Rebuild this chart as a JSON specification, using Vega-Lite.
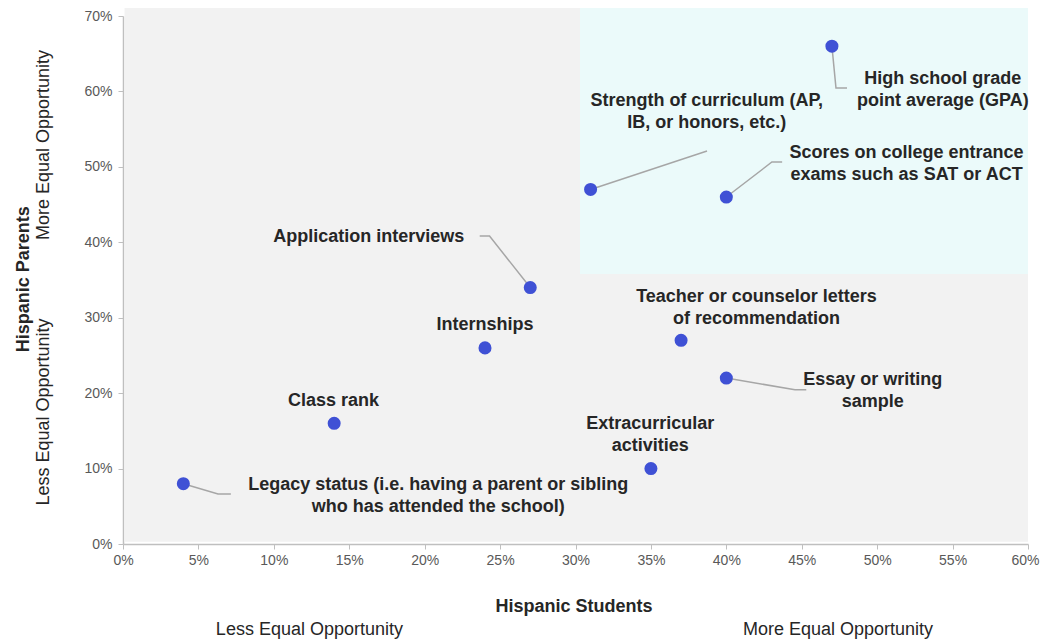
{
  "$schema": "https://vega.github.io/schema/vega-lite/v6.json",
  "width": 905,
  "height": 528,
  "autosize": {"type": "none"},
  "padding": {"left": 123, "top": 16, "right": 12, "bottom": 97},
  "background": "white",
  "config": {"view": {"stroke": null}, "font": "Liberation Sans"},
  "datasets": {
    "regions": [
      {"x1": 0.001, "x2": 0.6, "y1": 0.003, "y2": 0.7106, "fill": "gray"},
      {"x1": 0.303, "x2": 0.6, "y1": 0.358, "y2": 0.7106, "fill": "cyan"}
    ],
    "points": [
      {"factor": "Legacy status", "students": 0.04, "parents": 0.08},
      {"factor": "Class rank", "students": 0.14, "parents": 0.16},
      {"factor": "Internships", "students": 0.24, "parents": 0.26},
      {"factor": "Application interviews", "students": 0.27, "parents": 0.34},
      {"factor": "Strength of curriculum", "students": 0.31, "parents": 0.47},
      {"factor": "Extracurricular activities", "students": 0.35, "parents": 0.10},
      {"factor": "Teacher or counselor letters", "students": 0.37, "parents": 0.27},
      {"factor": "Essay or writing sample", "students": 0.40, "parents": 0.22},
      {"factor": "Scores on college entrance exams", "students": 0.40, "parents": 0.46},
      {"factor": "High school GPA", "students": 0.47, "parents": 0.66}
    ],
    "leaders": [
      {"factor": "GPA", "order": 1, "x": 0.47, "y": 0.66},
      {"factor": "GPA", "order": 2, "x": 0.4727, "y": 0.6045},
      {"factor": "GPA", "order": 3, "x": 0.4800, "y": 0.6045},
      {"factor": "Strength", "order": 1, "x": 0.31, "y": 0.47},
      {"factor": "Strength", "order": 2, "x": 0.3872, "y": 0.5210},
      {"factor": "Scores", "order": 1, "x": 0.40, "y": 0.46},
      {"factor": "Scores", "order": 2, "x": 0.4302, "y": 0.5064},
      {"factor": "Scores", "order": 3, "x": 0.4370, "y": 0.5064},
      {"factor": "Interviews", "order": 1, "x": 0.27, "y": 0.34},
      {"factor": "Interviews", "order": 2, "x": 0.2430, "y": 0.4083},
      {"factor": "Interviews", "order": 3, "x": 0.2365, "y": 0.4083},
      {"factor": "Essay", "order": 1, "x": 0.40, "y": 0.22},
      {"factor": "Essay", "order": 2, "x": 0.4455, "y": 0.2045},
      {"factor": "Essay", "order": 3, "x": 0.4530, "y": 0.2045},
      {"factor": "Legacy", "order": 1, "x": 0.04, "y": 0.08},
      {"factor": "Legacy", "order": 2, "x": 0.0630, "y": 0.0663},
      {"factor": "Legacy", "order": 3, "x": 0.0715, "y": 0.0663}
    ],
    "labels": [
      {"text": "High school grade\npoint average (GPA)", "x": 0.5435, "y": 0.6165},
      {"text": "Strength of curriculum (AP,\nIB, or honors, etc.)", "x": 0.387, "y": 0.5873},
      {"text": "Scores on college entrance\nexams such as SAT or ACT", "x": 0.5195, "y": 0.5184},
      {"text": "Application interviews", "x": 0.163, "y": 0.4070},
      {"text": "Internships", "x": 0.240, "y": 0.2903},
      {"text": "Class rank", "x": 0.1395, "y": 0.1896},
      {"text": "Teacher or counselor letters\nof recommendation", "x": 0.420, "y": 0.3275},
      {"text": "Essay or writing\nsample", "x": 0.497, "y": 0.2174},
      {"text": "Extracurricular\nactivities", "x": 0.3495, "y": 0.1591},
      {"text": "Legacy status (i.e. having a parent or sibling\nwho has attended the school)", "x": 0.209, "y": 0.0782}
    ],
    "xbold": [
      {"text": "Hispanic Students", "x": 0.299, "y": -0.0837}
    ],
    "xplain": [
      {"text": "Less Equal Opportunity", "x": 0.1236, "y": -0.114},
      {"text": "More Equal Opportunity", "x": 0.474, "y": -0.114}
    ],
    "ybold": [
      {"text": "Hispanic Parents", "x": -0.0658, "y": 0.351}
    ],
    "yplain": [
      {"text": "More Equal Opportunity", "x": -0.0525, "y": 0.529},
      {"text": "Less Equal Opportunity", "x": -0.0525, "y": 0.175}
    ]
  },
  "layer": [
    {
      "data": {"name": "regions"},
      "mark": {"type": "rect", "clip": false},
      "encoding": {
        "x": {"field": "x1", "type": "quantitative", "scale": {"domain": [0, 0.6]}},
        "x2": {"field": "x2"},
        "y": {"field": "y1", "type": "quantitative", "scale": {"domain": [0, 0.7]}},
        "y2": {"field": "y2"},
        "fill": {"field": "fill", "type": "nominal", "scale": {"domain": ["gray", "cyan"], "range": ["#f2f2f2", "#ebfafa"]}, "legend": null}
      }
    },
    {
      "data": {"name": "leaders"},
      "mark": {"type": "line", "color": "#a6a6a6", "strokeWidth": 1.5},
      "encoding": {
        "x": {"field": "x", "type": "quantitative"},
        "y": {"field": "y", "type": "quantitative"},
        "detail": {"field": "factor"},
        "order": {"field": "order"}
      }
    },
    {
      "data": {"name": "points"},
      "mark": {"type": "circle", "size": 170, "opacity": 1, "color": "#3f51d5"},
      "encoding": {
        "x": {
          "field": "students", "type": "quantitative",
          "scale": {"domain": [0, 0.6], "nice": false},
          "axis": {
            "values": [0, 0.05, 0.1, 0.15, 0.2, 0.25, 0.3, 0.35, 0.4, 0.45, 0.5, 0.55, 0.6],
            "format": ".0%", "title": null, "grid": false, "labelOverlap": false, "labelFlush": false,
            "labelOffset": {"condition": {"test": "datum.value >= 0.599", "value": -3}, "value": 0},
            "domainColor": "#bfbfbf", "domainWidth": 1.5, "tickColor": "#bfbfbf", "tickSize": 5,
            "labelColor": "#595959", "labelFontSize": 14, "labelPadding": 4, "labelFont": "Liberation Sans"
          }
        },
        "y": {
          "field": "parents", "type": "quantitative",
          "scale": {"domain": [0, 0.7], "nice": false},
          "axis": {
            "values": [0, 0.05, 0.1, 0.15, 0.2, 0.25, 0.3, 0.35, 0.4, 0.45, 0.5, 0.55, 0.6, 0.65, 0.7],
            "format": ".0%", "title": null, "grid": false, "labelOverlap": false, "labelFlush": false,
            "domainColor": "#bfbfbf", "domainWidth": 1.5, "tickColor": "#bfbfbf", "tickSize": 5,
            "labelColor": "#595959", "labelFontSize": 14, "labelPadding": 6, "labelFont": "Liberation Sans"
          }
        }
      }
    },
    {
      "data": {"name": "labels"},
      "mark": {"type": "text", "font": "Liberation Sans", "fontWeight": "bold", "fontSize": 18, "color": "#262626", "align": "center", "baseline": "middle", "lineBreak": "\n", "lineHeight": 22},
      "encoding": {
        "x": {"field": "x", "type": "quantitative"},
        "y": {"field": "y", "type": "quantitative"},
        "text": {"field": "text"}
      }
    },
    {
      "data": {"name": "xbold"},
      "mark": {"type": "text", "font": "Liberation Sans", "fontSize": 18, "fontWeight": "bold", "color": "#262626", "align": "center", "baseline": "middle", "clip": false},
      "encoding": {
        "x": {"field": "x", "type": "quantitative"},
        "y": {"field": "y", "type": "quantitative"},
        "text": {"field": "text"}
      }
    },
    {
      "data": {"name": "xplain"},
      "mark": {"type": "text", "font": "Liberation Sans", "fontSize": 18, "fontWeight": "normal", "color": "#262626", "align": "center", "baseline": "middle", "clip": false},
      "encoding": {
        "x": {"field": "x", "type": "quantitative"},
        "y": {"field": "y", "type": "quantitative"},
        "text": {"field": "text"}
      }
    },
    {
      "data": {"name": "ybold"},
      "mark": {"type": "text", "font": "Liberation Sans", "fontSize": 18, "fontWeight": "bold", "color": "#262626", "align": "center", "baseline": "middle", "angle": 270, "clip": false},
      "encoding": {
        "x": {"field": "x", "type": "quantitative"},
        "y": {"field": "y", "type": "quantitative"},
        "text": {"field": "text"}
      }
    },
    {
      "data": {"name": "yplain"},
      "mark": {"type": "text", "font": "Liberation Sans", "fontSize": 18, "fontWeight": "normal", "color": "#262626", "align": "center", "baseline": "middle", "angle": 270, "clip": false},
      "encoding": {
        "x": {"field": "x", "type": "quantitative"},
        "y": {"field": "y", "type": "quantitative"},
        "text": {"field": "text"}
      }
    }
  ]
}
